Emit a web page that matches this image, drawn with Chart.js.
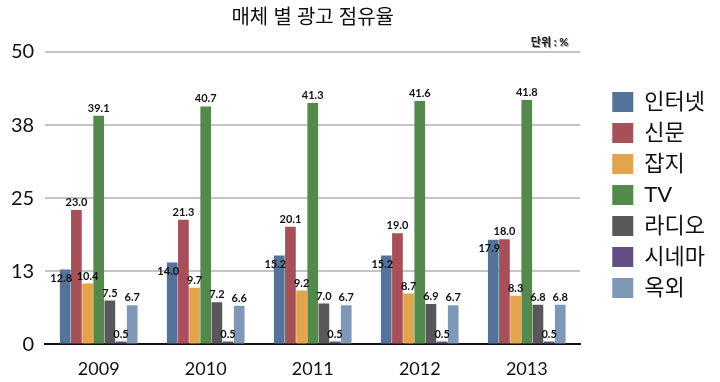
<!DOCTYPE html>
<html>

<head>
    <title>매체 별 광고 점유율</title>
    <meta charset="utf-8">
    <script src="https://cdn.jsdelivr.net/npm/chart.js"></script>
    <style type="text/css">
        html, body { margin: 0; padding: 0; background: #fff; }
        .chart-box { position: relative; width: 720px; height: 382px; }
    </style>
</head>

<body>
    <div class="chart-box">
        <canvas id="myChart"></canvas>
    </div>

    <script>
        const years = ['2009', '2010', '2011', '2012', '2013'];
        const media = ['인터넷', '신문', '잡지', 'TV', '라디오', '시네마', '옥외'];
        const internet = [12.8, 14.0, 15.2, 15.2, 17.9];
        const newspaper = [23.0, 21.3, 20.1, 19.0, 18.0];
        const magazine = [10.4, 9.7, 9.2, 8.7, 8.3];
        const tv = [39.1, 40.7, 41.3, 41.6, 41.8];
        const radio = [7.5, 7.2, 7.0, 6.9, 6.8];
        const cinema = [0.5, 0.5, 0.5, 0.5, 0.5];
        const outdoor = [6.7, 6.6, 6.7, 6.7, 6.8];
        const yTicks = [0, 12.5, 25, 37.5, 50];

        const seriesValues = [internet, newspaper, magazine, tv, radio, cinema, outdoor];
        const colors = ['#55739a', '#a8505a', '#e2a44c', '#53894a', '#58585a', '#624f86', '#7f98b8'];
        const fontFamily = "Lato, 'Noto Sans CJK KR', sans-serif";

        // value labels drawn on top of each bar
        const valueLabels = {
            id: 'valueLabels',
            afterDatasetsDraw(chart) {
                const ctx = chart.ctx;
                ctx.save();
                ctx.font = 'bold 11px ' + fontFamily;
                ctx.fillStyle = '#111';
                ctx.textAlign = 'center';
                ctx.textBaseline = 'bottom';
                chart.data.datasets.forEach((ds, i) => {
                    chart.getDatasetMeta(i).data.forEach((bar, j) => {
                        let x = bar.x, y = bar.y - 2;
                        if (i === 0) { x -= 4; y += 16; }
                        ctx.fillText(ds.data[j].toFixed(1), x, y);
                    });
                });
                ctx.restore();
            }
        };

        // small unit note at top right of plot
        const unitNote = {
            id: 'unitNote',
            afterDraw(chart) {
                const ctx = chart.ctx;
                const area = chart.chartArea;
                ctx.save();
                ctx.font = 'bold 11px ' + fontFamily;
                ctx.textAlign = 'right';
                ctx.textBaseline = 'bottom';
                ctx.fillStyle = '#999';
                ctx.fillText('단위 : %', area.right - 11, area.top - 3);
                ctx.fillStyle = '#222';
                ctx.fillText('단위 : %', area.right - 12, area.top - 4);
                ctx.restore();
            }
        };

        // push the legend a bit further from the plot
        const legendShift = {
            id: 'legendShift',
            afterLayout(chart) {
                chart.legend.left += 23;
                chart.legend.right += 23;
            }
        };

        var ctx = document.getElementById('myChart').getContext('2d');
        var myChart = new Chart(ctx, {
            type: 'bar',
            data: {
                labels: years,
                datasets: media.map((m, i) => ({
                    label: m,
                    data: seriesValues[i],
                    backgroundColor: colors[i],
                    categoryPercentage: 0.73,
                    barPercentage: 0.96
                }))
            },
            options: {
                responsive: true,
                maintainAspectRatio: false,
                animation: false,
                layout: { padding: { left: 0, right: 28, top: 4, bottom: -4 } },
                plugins: {
                    title: {
                        display: true,
                        text: '매체 별 광고 점유율',
                        fullSize: false,
                        color: '#111',
                        font: { family: fontFamily, size: 20, weight: 'normal' },
                        padding: { top: 2, bottom: 22 }
                    },
                    legend: {
                        position: 'right',
                        labels: {
                            boxWidth: 21,
                            boxHeight: 20,
                            padding: 9,
                            color: '#111',
                            font: { family: fontFamily, size: 22 }
                        }
                    },
                    tooltip: { enabled: false }
                },
                scales: {
                    x: {
                        grid: { display: false },
                        border: { color: '#111', width: 2 },
                        ticks: { color: '#111', font: { family: fontFamily, size: 18 }, padding: 6 }
                    },
                    y: {
                        min: 0,
                        max: 50,
                        afterBuildTicks: axis => { axis.ticks = yTicks.map(v => ({ value: v })); },
                        grid: { color: '#c4c4c4', lineWidth: 2, drawTicks: false },
                        border: { display: false },
                        ticks: {
                            color: '#111',
                            padding: 11,
                            font: { family: fontFamily, size: 20 },
                            callback: v => Math.round(v)
                        }
                    }
                }
            },
            plugins: [valueLabels, unitNote, legendShift]
        });
    </script>
</body>

</html>
